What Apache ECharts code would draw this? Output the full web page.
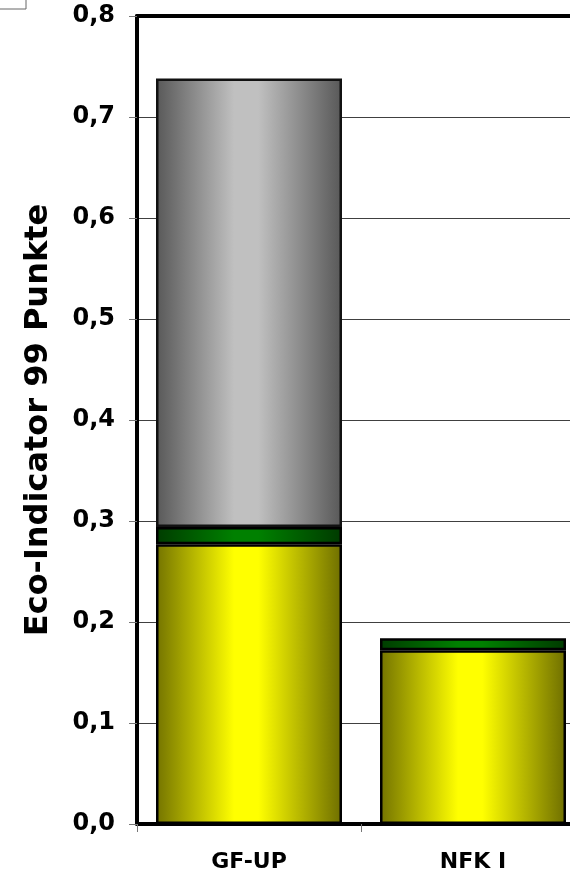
<!DOCTYPE html>
<html>
<head>
<meta charset="utf-8">
<script src="https://cdn.jsdelivr.net/npm/echarts@6/dist/echarts.min.js"></script>
<style>
  html, body { margin: 0; padding: 0; background: #fff; }
  #chart { width: 570px; height: 878px; }
</style>
</head>
<body>
<div id="chart"></div>
<script>
// Eco-Indicator 99 results, stacked per variant
const categories = ['GF-UP', 'NFK I'];
const yellowPart = [0.277, 0.172];
const greenPart = [0.017, 0.012];
const greyPart = [0.444, '-'];
const yTicks = [0, 0.1, 0.2, 0.3, 0.4, 0.5, 0.6, 0.7, 0.8];

const fontFamily = '"DejaVu Sans", "Liberation Sans", Arial, sans-serif';

function hGradient(edgeL, mid, edgeR) {
  return new echarts.graphic.LinearGradient(0, 0, 1, 0, [
    { offset: 0, color: edgeL },
    { offset: 0.42, color: mid },
    { offset: 0.55, color: mid },
    { offset: 1, color: edgeR }
  ]);
}

const chart = echarts.init(document.getElementById('chart'), null, { renderer: 'canvas' });

chart.setOption({
  backgroundColor: '#ffffff',
  animation: false,
  graphic: [{
    type: 'rect',
    shape: { x: -2, y: -2, width: 28, height: 11 },
    style: { fill: 'none', stroke: '#666', lineWidth: 1 }
  }],
  grid: {
    left: 137, top: 16, width: 448, height: 808,
    containLabel: false, outerBoundsMode: 'none'
  },
  xAxis: [{
    type: 'category',
    data: categories,
    position: 'bottom',
    axisLine: { show: true, lineStyle: { color: '#000', width: 4 } },
    axisTick: { show: true, length: 8, lineStyle: { color: '#777', width: 1 } },
    axisLabel: {
      color: '#000', fontFamily, fontWeight: 'bold', fontSize: 22, margin: 27
    },
    splitLine: { show: false }
  }, {
    type: 'category',
    data: categories,
    position: 'top',
    axisLine: { show: true, lineStyle: { color: '#000', width: 4 } },
    axisTick: { show: false },
    axisLabel: { show: false }
  }],
  yAxis: {
    type: 'value',
    min: 0,
    max: 0.8,
    interval: 0.1,
    name: 'Eco-Indicator 99 Punkte',
    nameLocation: 'middle',
    nameRotate: 90,
    nameGap: 82,
    nameTextStyle: { color: '#000', fontFamily, fontWeight: 'bold', fontSize: 32 },
    axisLine: { show: true, lineStyle: { color: '#000', width: 4 } },
    axisTick: { show: true, inside: false, length: 8, lineStyle: { color: '#777', width: 1 } },
    axisLabel: {
      color: '#000', fontFamily, fontWeight: 'bold', fontSize: 24, margin: 22,
      formatter: v => {
        const t = yTicks.find(x => Math.abs(x - v) < 1e-9);
        return (t === undefined ? v : t).toFixed(1).replace('.', ',');
      }
    },
    splitLine: { show: true, lineStyle: { color: '#404040', width: 1 } }
  },
  series: [{
    name: 'yellow',
    type: 'bar',
    stack: 'eco',
    barWidth: 186,
    data: yellowPart,
    itemStyle: {
      color: hGradient('#737300', '#ffff00', '#6e6e00'),
      borderColor: '#000', borderWidth: 2.5
    }
  }, {
    name: 'green',
    type: 'bar',
    stack: 'eco',
    barWidth: 186,
    data: greenPart,
    itemStyle: {
      color: hGradient('#003c00', '#008000', '#003a00'),
      borderColor: '#000', borderWidth: 2.5
    }
  }, {
    name: 'grey',
    type: 'bar',
    stack: 'eco',
    barWidth: 186,
    data: greyPart,
    itemStyle: {
      color: hGradient('#585858', '#c0c0c0', '#585858'),
      borderColor: '#111', borderWidth: 2.5
    }
  }]
});
</script>
</body>
</html>
